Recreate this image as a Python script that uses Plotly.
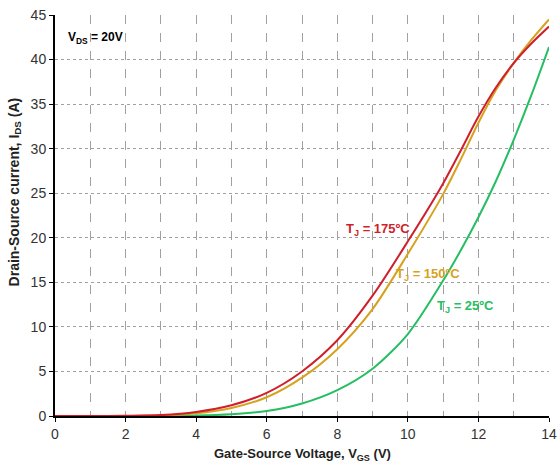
import plotly.graph_objects as go

vgs = [0, 1, 2, 3, 4, 5, 6, 7, 8, 9, 10, 11, 11.5, 12, 12.5, 13, 13.5, 14]
ids_175 = [0.0, 0.0, 0.02, 0.1, 0.45, 1.2, 2.6, 5.0, 8.5, 13.5, 19.6, 26.1, 29.8, 33.6, 36.9, 39.6, 41.8, 43.7]
ids_150 = [0.0, 0.0, 0.01, 0.05, 0.3, 0.9, 2.1, 4.3, 7.5, 12.0, 18.2, 24.9, 28.8, 32.9, 36.6, 39.6, 42.2, 44.5]
ids_25 = [0.0, 0.0, 0.0, 0.01, 0.05, 0.2, 0.55, 1.4, 2.9, 5.3, 9.2, 15.2, 18.6, 22.3, 26.4, 31.0, 36.0, 41.4]

c175 = "#cf1f2b"
c150 = "#d6a21e"
c25 = "#25be62"

fig = go.Figure()
for y, c in [(ids_25, c25), (ids_150, c150), (ids_175, c175)]:
    fig.add_trace(go.Scatter(x=vgs, y=y, mode="lines",
                             line=dict(color=c, width=2, shape="spline", smoothing=0.8),
                             showlegend=False, hoverinfo="skip"))

font_family = "Liberation Sans, Arial, sans-serif"
fig.update_layout(
    width=558, height=466,
    margin=dict(l=55, r=9, t=15, b=50, autoexpand=False),
    plot_bgcolor="white", paper_bgcolor="white",
    font=dict(family=font_family, size=12, color="#333333"),
)
fig.update_xaxes(
    range=[0, 14], tickvals=[0, 2, 4, 6, 8, 10, 12, 14],
    showline=True, linecolor="black", linewidth=2,
    ticks="outside", ticklen=4, tickcolor="black",
    showgrid=True, gridcolor="#a0a0a0", griddash="dash", gridwidth=1,
    minor=dict(dtick=1, showgrid=True, gridcolor="#a0a0a0", griddash="dash", ticks=""),
    zeroline=False, automargin=False,
    tickfont=dict(size=14, color="#333333"),
)
fig.update_yaxes(
    range=[0, 45], dtick=5,
    showline=True, linecolor="black", linewidth=2,
    ticks="outside", ticklen=4, tickcolor="black",
    showgrid=True, gridcolor="#a0a0a0", griddash="dot", gridwidth=1,
    zeroline=False, automargin=False,
    tickfont=dict(size=14, color="#333333"),
)

# axis titles
fig.add_annotation(x=0.5, y=-0.095, xref="paper", yref="paper", xanchor="center", yanchor="middle",
                   text="<b>Gate-Source Voltage, V<sub>GS</sub> (V)</b>", showarrow=False,
                   font=dict(size=13, color="#222222"))
fig.add_annotation(x=-0.081, y=0.56, xref="paper", yref="paper", xanchor="center", yanchor="middle",
                   text="<b>Drain-Source current, I<sub>DS</sub> (A)</b>", showarrow=False, textangle=-90,
                   font=dict(size=14, color="#222222"))

fig.add_annotation(x=0.3, y=42.4, xref="x", yref="y", xanchor="left", yanchor="middle",
                   text="<b>V<sub>DS</sub> = 20V</b>", showarrow=False,
                   font=dict(size=12, color="black"))
fig.add_annotation(x=9.14, y=20.9, xref="x", yref="y", xanchor="center", yanchor="middle",
                   text="<b>T<sub>J</sub> = 175ºC</b>", showarrow=False,
                   font=dict(size=13, color=c175))
fig.add_annotation(x=10.56, y=15.85, xref="x", yref="y", xanchor="center", yanchor="middle",
                   text="<b>T<sub>J</sub> = 150ºC</b>", showarrow=False,
                   font=dict(size=13, color=c150))
fig.add_annotation(x=11.64, y=12.3, xref="x", yref="y", xanchor="center", yanchor="middle",
                   text="<b>T<sub>J</sub> = 25ºC</b>", showarrow=False,
                   font=dict(size=13, color=c25))

fig.write_html("out.html")
